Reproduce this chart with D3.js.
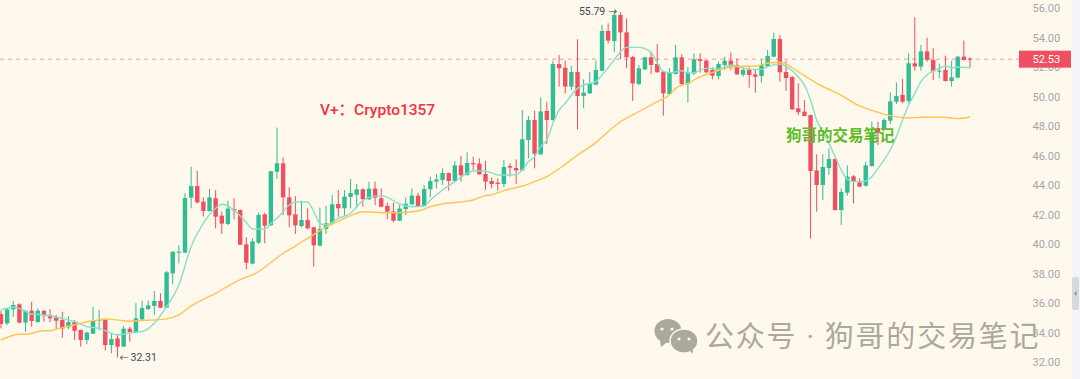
<!DOCTYPE html>
<html><head><meta charset="utf-8">
<script src="https://cdn.jsdelivr.net/npm/d3@7"></script>
<style>
html,body{margin:0;padding:0;background:#fff8ec;overflow:hidden}
svg{display:block}
text{font-family:Roboto,"Noto Sans CJK SC",sans-serif}
</style></head><body>
<svg id="c" width="1080" height="379"></svg>
<script>
const opens=[35.25,34.62,35.57,35.91,34.67,35.48,34.71,35.46,35.19,35.01,34.85,34.35,34.71,34.17,33.49,33.92,34.78,34.85,33.15,33.60,33.04,34.26,34.03,34.89,35.59,35.80,36.14,35.68,38.01,39.44,39.42,43.14,43.93,42.87,42.24,43.10,41.92,41.36,42.37,42.30,39.98,38.67,40.09,42.01,41.27,44.90,45.47,43.16,42.01,41.22,41.63,41.13,39.89,41.02,41.36,42.71,42.42,43.19,43.34,43.71,43.03,43.75,43.10,42.58,42.21,41.58,42.37,42.69,43.28,42.58,43.71,44.23,44.34,44.81,44.27,45.33,44.68,45.49,45.45,44.75,44.27,44.16,44.07,45.29,45.15,44.99,47.05,48.41,46.08,49.02,48.41,52.20,51.95,50.67,51.66,50.03,50.21,50.80,51.75,54.44,53.76,55.53,54.35,52.68,50.85,51.84,52.66,52.20,51.68,50.17,51.53,52.66,50.85,51.57,52.52,52.43,51.80,51.39,52.14,52.43,52.12,51.48,51.80,51.50,51.39,52.03,52.70,53.90,51.66,51.32,49.20,48.97,48.74,44.99,44.00,45.15,45.76,42.30,43.48,44.59,44.18,43.95,45.29,47.86,47.77,48.36,49.65,50.10,49.70,52.25,52.03,53.06,52.48,51.68,51.80,51.05,51.28,52.70,52.57];
const highs=[35.48,35.64,36.14,35.98,35.53,36.09,35.64,35.53,35.59,35.19,35.41,35.12,34.85,34.21,34.06,35.73,35.53,34.89,33.94,33.90,34.46,34.40,35.98,36.16,36.16,36.81,36.66,38.17,39.50,39.93,43.44,45.24,44.97,43.16,43.73,43.66,42.19,42.94,43.10,42.35,40.45,40.38,42.12,42.12,44.97,47.89,45.88,43.84,43.25,42.94,42.42,41.18,42.46,42.60,43.32,43.66,43.66,44.41,44.07,43.77,44.23,44.23,43.77,42.80,42.80,42.64,43.16,43.77,43.48,44.00,44.57,44.75,45.13,44.84,45.63,45.97,46.21,45.92,45.81,45.63,44.50,44.45,45.70,45.47,45.74,49.08,48.68,49.04,49.94,49.65,52.43,52.81,52.43,52.07,53.88,51.16,51.68,52.43,54.85,54.96,55.79,55.71,55.30,52.75,52.14,52.70,53.04,53.56,51.75,51.91,53.49,52.86,51.98,52.93,52.93,52.48,51.98,52.36,52.70,52.99,52.57,51.98,51.98,51.86,52.52,53.15,54.33,54.17,52.43,51.39,50.89,49.76,48.79,46.08,46.08,46.49,45.78,43.77,45.33,44.68,44.45,45.58,48.29,48.29,48.52,50.28,50.96,51.19,52.93,55.37,53.49,53.99,53.28,52.23,52.77,52.43,52.75,53.79,52.66];
const lows=[34.28,34.51,35.07,34.62,34.06,34.40,34.67,34.73,34.69,34.24,33.65,34.21,33.49,33.04,33.20,33.90,34.17,32.77,32.59,32.31,33.02,33.38,33.99,34.85,35.53,35.19,35.66,35.66,37.27,38.69,39.38,42.42,42.76,41.85,42.19,41.06,40.68,41.27,41.67,39.93,38.28,38.62,40.00,40.05,41.22,44.41,41.97,41.13,40.68,41.13,40.99,38.46,39.84,40.68,41.29,41.85,41.90,42.42,42.42,42.53,42.98,42.64,42.49,41.69,41.47,41.56,41.97,42.64,42.49,42.53,43.16,43.77,44.00,43.62,44.23,44.23,44.63,45.02,44.70,43.66,43.77,43.62,43.84,44.57,44.07,44.95,45.81,45.13,46.03,46.78,48.36,50.67,50.21,50.44,47.77,49.20,50.17,50.78,51.71,53.60,52.99,52.54,51.91,49.70,50.76,51.80,51.53,51.62,48.70,50.12,51.50,50.71,49.58,51.46,51.62,51.57,51.16,51.16,51.80,51.80,51.46,51.34,50.60,50.26,50.94,51.98,52.66,51.01,50.39,49.10,48.74,48.66,40.36,42.19,42.98,44.68,42.28,41.29,43.28,42.76,43.87,43.89,45.24,46.71,47.73,48.14,49.49,49.54,49.54,51.75,51.75,52.36,51.12,51.23,51.01,50.67,51.23,52.43,51.96];
const closes=[34.58,35.57,35.86,34.67,35.46,34.78,35.48,35.16,34.96,34.80,34.28,34.71,34.12,33.49,33.99,34.78,34.85,33.15,33.56,33.04,34.26,34.03,34.96,35.66,35.84,36.14,35.68,38.08,39.48,39.48,43.12,43.93,42.82,42.24,43.16,41.85,41.38,42.40,42.28,39.95,38.73,40.18,41.97,41.24,44.93,45.47,43.16,41.94,41.27,41.63,41.06,39.91,41.02,41.40,42.69,42.42,43.21,43.46,43.71,43.05,43.75,43.14,42.53,42.19,41.58,42.40,42.73,43.28,42.53,43.73,44.27,44.38,44.81,44.27,45.33,44.66,45.49,45.40,44.72,44.23,44.07,44.07,45.22,45.18,44.99,47.10,48.41,46.12,48.99,48.41,52.20,51.91,50.67,51.66,50.03,50.26,50.87,51.80,54.44,53.79,55.53,54.35,52.66,50.89,51.91,52.66,52.14,51.64,50.21,51.62,52.66,50.85,51.62,52.52,52.41,51.64,51.41,52.20,52.43,52.03,51.50,51.80,51.46,51.34,52.12,52.75,53.90,51.64,51.25,49.13,48.93,48.68,44.95,44.00,45.22,45.76,42.30,43.53,44.57,44.23,43.89,45.33,47.55,47.55,48.41,49.67,50.03,49.65,52.25,52.03,53.06,52.48,51.71,51.75,51.05,51.30,52.70,52.48,52.53];

const fastIdx=[0,2,3,5,7,10,12,14,16,18,19,21,23,25,27,29,31,33,35,36,38,40,41,43,44,45,46,47,48,50,51,52,53,55,57,58,59,60,62,63,65,67,69,70,72,74,76,77,78,80,81,83,84,85,86,87,88,89,90,91,92,94,95,97,98,100,101,102,104,106,107,108,109,110,111,112,113,115,117,119,121,123,124,125,127,128,129,130,131,132,133,134,135,136,137,138,139,140,141,142,143,144,145,146,147,148,149,150,151,152,153,154,155,156,158];
const fastVal=[35.53,35.71,35.64,35.25,35.19,34.96,34.73,34.40,34.28,33.94,33.83,33.99,34.06,34.62,35.75,37.22,39.82,41.40,42.42,42.69,42.30,41.45,41.02,41.02,41.40,41.74,42.19,42.64,42.85,42.85,42.19,41.40,41.29,41.74,42.08,42.53,42.94,43.16,43.28,43.16,42.71,42.53,42.58,42.96,43.66,44.23,44.79,44.95,44.97,44.84,44.68,44.68,44.70,45.02,45.58,45.92,46.60,47.05,48.18,49.08,49.54,50.55,50.78,51.01,51.46,52.48,53.04,53.33,53.33,53.00,52.30,51.70,51.60,51.68,51.75,51.57,51.62,51.91,51.86,52.14,51.91,51.84,51.84,52.03,52.20,52.03,51.75,51.34,50.78,49.76,48.41,47.62,46.82,45.92,45.02,44.38,44.23,44.23,44.26,44.57,45.13,45.70,46.37,47.28,48.41,49.42,50.21,51.01,51.46,51.73,51.91,52.07,51.95,51.98,51.95];
const slowIdx=[0,3,4,7,8,10,12,14,16,17,18,20,21,23,25,27,29,31,33,35,37,39,42,44,46,48,50,52,54,56,58,59,61,63,65,67,69,70,72,75,77,79,80,82,85,87,89,92,94,97,99,101,103,105,107,109,110,112,114,116,118,120,123,125,127,128,130,133,137,140,142,145,148,150,153,156,158];
const slowVal=[33.49,33.88,33.88,34.12,34.12,34.33,34.51,34.73,34.85,34.92,34.89,34.80,34.76,34.82,34.85,34.92,35.19,35.80,36.25,36.66,37.15,37.58,38.12,38.75,39.37,39.86,40.38,40.90,41.36,41.74,42.08,42.19,42.15,42.12,42.12,42.19,42.35,42.53,42.72,42.85,42.98,43.28,43.33,43.62,43.93,44.23,44.57,45.40,46.03,46.87,47.62,48.29,48.75,49.20,49.65,50.10,50.55,50.89,51.34,51.62,51.91,52.03,52.07,52.25,52.32,52.20,51.68,50.89,50.08,49.36,49.06,48.70,48.54,48.59,48.61,48.50,48.61];

const yTicks=[32,34,36,38,40,42,44,46,48,50,52,54,56];
const lastPrice=52.53, highLabel=55.79, lowLabel=32.31;
const overlayRed="V+：Crypto1357", overlayGreen="狗哥的交易笔记";
const mark="公众号 · 狗哥的交易笔记";

const UP="#2ebd94", DOWN="#f04f5f", BG="#fff8ec";
const svg=d3.select("#c");
const x=d3.scaleLinear().domain([0,158]).range([1,970]);
const y=d3.scaleLinear().domain([32,56]).range([362,8]);

svg.append("rect").attr("width",1080).attr("height",379).attr("fill",BG);

// last-price dashed line
svg.append("line").attr("x1",0).attr("x2",1022).attr("y1",y(lastPrice)).attr("y2",y(lastPrice))
  .attr("stroke","#f79aa2").attr("stroke-width",1).attr("stroke-dasharray","4 4");

// axis
const axis=d3.axisRight(y).tickValues(yTicks).tickFormat(d3.format(".2f")).tickSize(0).tickPadding(0);
const ag=svg.append("g").attr("transform","translate(1032.5,0)").call(axis);
ag.select(".domain").remove();
ag.selectAll("text").attr("fill","#a3a6ad").attr("font-size",11).attr("font-family","Roboto");

// candles
const data=opens.map((o,i)=>({i,o,h:highs[i],l:lows[i],c:closes[i]}));
const col=d=>d.c>=d.o?UP:DOWN;
svg.append("g").selectAll("line").data(data).join("line")
  .attr("x1",d=>x(d.i)).attr("x2",d=>x(d.i)).attr("y1",d=>y(d.h)).attr("y2",d=>y(d.l))
  .attr("stroke",col).attr("stroke-width",1);
svg.append("g").selectAll("rect").data(data).join("rect")
  .attr("x",d=>x(d.i)-2.2).attr("width",4.4)
  .attr("y",d=>Math.min(y(d.o),y(d.c)))
  .attr("height",d=>Math.max(1,Math.abs(y(d.o)-y(d.c))))
  .attr("fill",col);

// moving averages
const line=d3.line().curve(d3.curveMonotoneX);
svg.append("path").attr("d",line(fastIdx.map((d,i)=>[x(d),y(fastVal[i])])))
  .attr("fill","none").attr("stroke","#85e0cb").attr("stroke-width",1.4);
svg.append("path").attr("d",line(slowIdx.map((d,i)=>[x(d),y(slowVal[i])])))
  .attr("fill","none").attr("stroke","#ffc552").attr("stroke-width",1.4);

// price label
svg.append("rect").attr("x",1019).attr("width",52).attr("y",y(lastPrice)-8.5).attr("height",17).attr("fill",DOWN);
svg.append("text").attr("x",1032.5).attr("y",y(lastPrice)+4).attr("fill","#fff").attr("font-size",11).text(lastPrice.toFixed(2));

// high/low labels
const lowT=svg.append("text").attr("x",x(19)+2).attr("y",y(lowLabel)+4).attr("fill","#434651").attr("font-size",10.5);
lowT.append("tspan").attr("font-size",9).text("←");
lowT.append("tspan").attr("dx",2).text(lowLabel.toFixed(2));
const highT=svg.append("text").attr("x",x(100)+3).attr("y",y(highLabel)+4).attr("text-anchor","end").attr("fill","#434651").attr("font-size",10.5);
highT.append("tspan").text(highLabel.toFixed(2));
highT.append("tspan").attr("dx",3).attr("font-size",9).text("→");

// overlays
svg.append("text").attr("x",320).attr("y",115).attr("fill","#f7303f").attr("font-size",15.5).attr("font-weight",500).text(overlayRed);
svg.append("text").attr("x",786).attr("y",141).attr("fill","#5dbb2a").attr("font-size",15.5).attr("font-weight",700).attr("font-family","'Noto Sans CJK SC'").text(overlayGreen);

// right strip
svg.append("rect").attr("x",1072.5).attr("width",7.5).attr("height",379).attr("fill","#f3f5f9");
svg.append("rect").attr("x",1072).attr("y",277).attr("width",7).attr("height",33).attr("rx",2).attr("fill","#d6d9df");
svg.append("path").attr("d","M1074 293.5l2.5-2.5v5z").attr("fill","#8a8e96");

// watermark
const ic=svg.append("g").attr("fill","#aba89e");
ic.append("ellipse").attr("cx",668).attr("cy",331).attr("rx",13.5).attr("ry",12);
ic.append("path").attr("d","M660 340l1 7 6-5z");
ic.append("ellipse").attr("cx",684).attr("cy",341).attr("rx",14).attr("ry",12).attr("stroke",BG).attr("stroke-width",1.5);
ic.append("path").attr("d","M689 350l4 4-.5-6z");
[[662,329],[672,329],[679,339],[689,339]].forEach(p=>ic.append("circle").attr("cx",p[0]).attr("cy",p[1]).attr("r",1.6).attr("fill",BG));
svg.append("text").attr("x",705).attr("y",347).attr("fill","#aba89e").attr("font-size",29).attr("letter-spacing",1.8)
  .attr("font-family","'Noto Sans CJK SC'").text(mark);
</script></body></html>
